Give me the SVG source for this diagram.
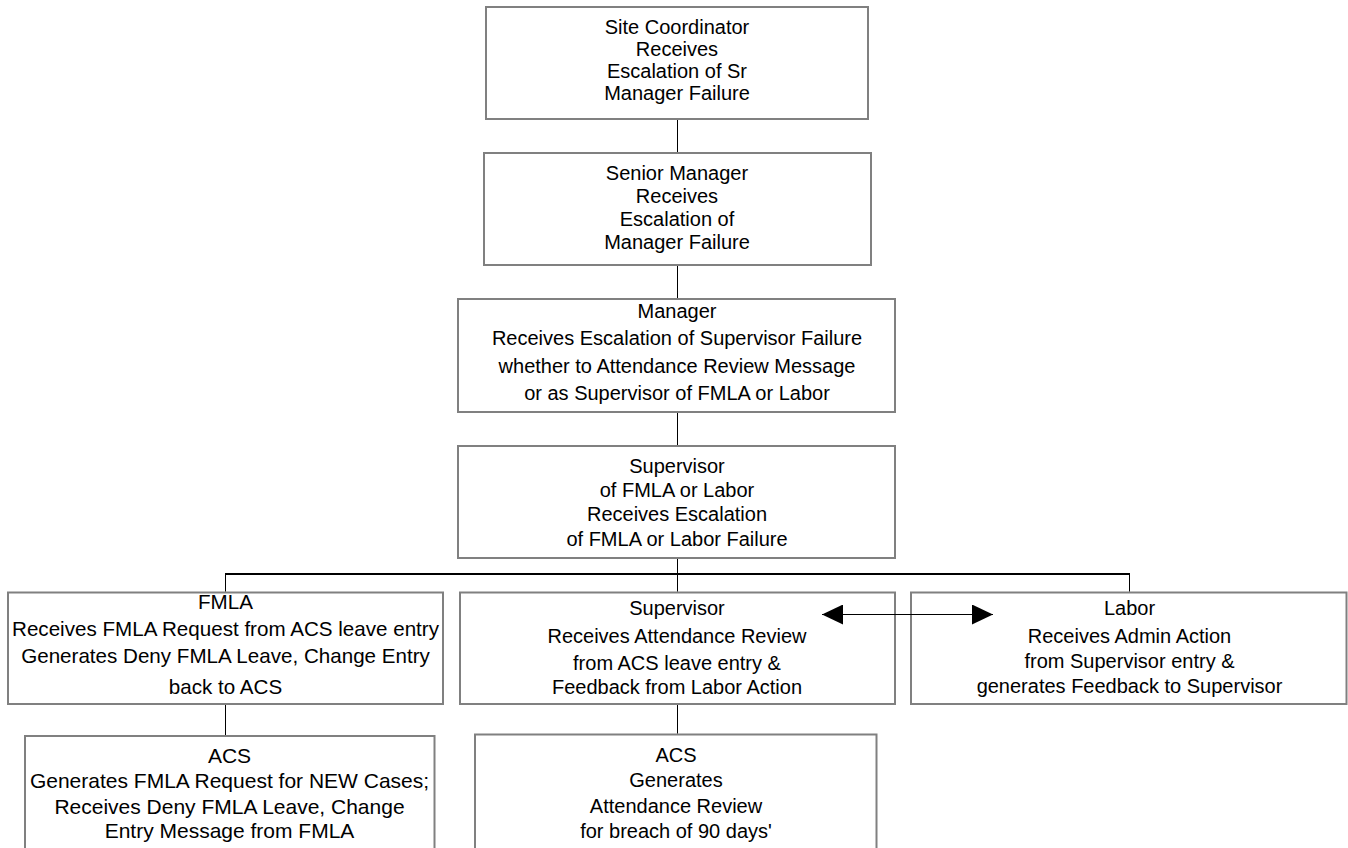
<svg xmlns="http://www.w3.org/2000/svg" width="1348" height="848" viewBox="0 0 1348 848">
<style>
.box{fill:#fff;stroke:#808080;stroke-width:2}
.t{font-family:"Liberation Sans",Arial,sans-serif;font-size:20px;fill:#000;text-anchor:middle}
.c{stroke:#000;stroke-width:1;fill:none}
.h{stroke:#000;stroke-width:2;fill:none}
</style>
<defs>
<marker id="ah" viewBox="0 0 21 20" refX="21" refY="10" markerWidth="21" markerHeight="20" markerUnits="userSpaceOnUse" orient="auto-start-reverse">
<path d="M0,0 L21,10 L0,20 Z" fill="#000"/>
</marker>
</defs>
<rect width="1348" height="848" fill="#fff"/>
<g id="site-coordinator">
<rect class="box" x="486" y="7" width="382" height="112"/>
<text class="t" x="677" y="33.5">Site Coordinator</text>
<text class="t" x="677" y="55.5">Receives</text>
<text class="t" x="677" y="78">Escalation of Sr</text>
<text class="t" x="677" y="100">Manager Failure</text>
</g>
<g id="senior-manager">
<rect class="box" x="484" y="153" width="387" height="112"/>
<text class="t" x="677" y="180">Senior Manager</text>
<text class="t" x="677" y="203">Receives</text>
<text class="t" x="677" y="226">Escalation of</text>
<text class="t" x="677" y="249">Manager Failure</text>
</g>
<g id="manager">
<rect class="box" x="458" y="299" width="437" height="113"/>
<text class="t" x="677" y="317.5">Manager</text>
<text class="t" x="677" y="345">Receives Escalation of Supervisor Failure</text>
<text class="t" x="677" y="372.5">whether to Attendance Review Message</text>
<text class="t" x="677" y="400">or as Supervisor of FMLA or Labor</text>
</g>
<g id="supervisor-top">
<rect class="box" x="458" y="446" width="437" height="112"/>
<text class="t" x="677" y="472.5">Supervisor</text>
<text class="t" x="677" y="496.5">of FMLA or Labor</text>
<text class="t" x="677" y="520.5">Receives Escalation</text>
<text class="t" x="677" y="545.5">of FMLA or Labor Failure</text>
</g>
<g id="fmla">
<rect class="box" x="8" y="592.5" width="435" height="111.5"/>
<text class="t" x="225.5" y="608.5" style="font-size:20.6px">FMLA</text>
<text class="t" x="225.5" y="636" style="font-size:20.6px">Receives FMLA Request from ACS leave entry</text>
<text class="t" x="225.5" y="663" style="font-size:20.6px">Generates Deny FMLA Leave, Change Entry</text>
<text class="t" x="225.5" y="694" style="font-size:20.6px">back to ACS</text>
</g>
<g id="supervisor">
<rect class="box" x="460" y="592.5" width="435" height="111.5"/>
<text class="t" x="677" y="615">Supervisor</text>
<text class="t" x="677" y="642.5">Receives Attendance Review</text>
<text class="t" x="677" y="669.5">from ACS leave entry &amp;</text>
<text class="t" x="677" y="693.5">Feedback from Labor Action</text>
</g>
<g id="labor">
<rect class="box" x="911" y="592.5" width="435.5" height="111.5"/>
<text class="t" x="1129.5" y="615">Labor</text>
<text class="t" x="1129.5" y="643">Receives Admin Action</text>
<text class="t" x="1129.5" y="668">from Supervisor entry &amp;</text>
<text class="t" x="1129.5" y="693">generates Feedback to Supervisor</text>
</g>
<g id="acs-fmla">
<rect class="box" x="25" y="736" width="409.5" height="130"/>
<text class="t" x="229.5" y="762.5" style="font-size:21px">ACS</text>
<text class="t" x="229.5" y="788" style="font-size:21px">Generates FMLA Request for NEW Cases;</text>
<text class="t" x="229.5" y="814" style="font-size:21px">Receives Deny FMLA Leave, Change</text>
<text class="t" x="229.5" y="838" style="font-size:21px">Entry Message from FMLA</text>
</g>
<g id="acs-attendance">
<rect class="box" x="475" y="734.5" width="401.5" height="130"/>
<text class="t" x="676" y="761.5">ACS</text>
<text class="t" x="676" y="787">Generates</text>
<text class="t" x="676" y="813">Attendance Review</text>
<text class="t" x="676" y="838">for breach of 90 days'</text>
</g>
<g id="connectors">
<line class="c" x1="677.5" y1="120" x2="677.5" y2="152"/>
<line class="c" x1="677.5" y1="266" x2="677.5" y2="298"/>
<line class="c" x1="677.5" y1="413" x2="677.5" y2="445"/>
<line class="c" x1="677.5" y1="559" x2="677.5" y2="591.5"/>
<line class="h" x1="225" y1="574" x2="1130" y2="574"/>
<line class="c" x1="225.5" y1="574" x2="225.5" y2="591.5"/>
<line class="c" x1="1129.5" y1="574" x2="1129.5" y2="591.5"/>
<line class="c" x1="225.5" y1="705" x2="225.5" y2="735"/>
<line class="c" x1="677.5" y1="705" x2="677.5" y2="733.5"/>
<line class="c" x1="822" y1="614.5" x2="993" y2="614.5" marker-start="url(#ah)" marker-end="url(#ah)"/>
</g>
</svg>
